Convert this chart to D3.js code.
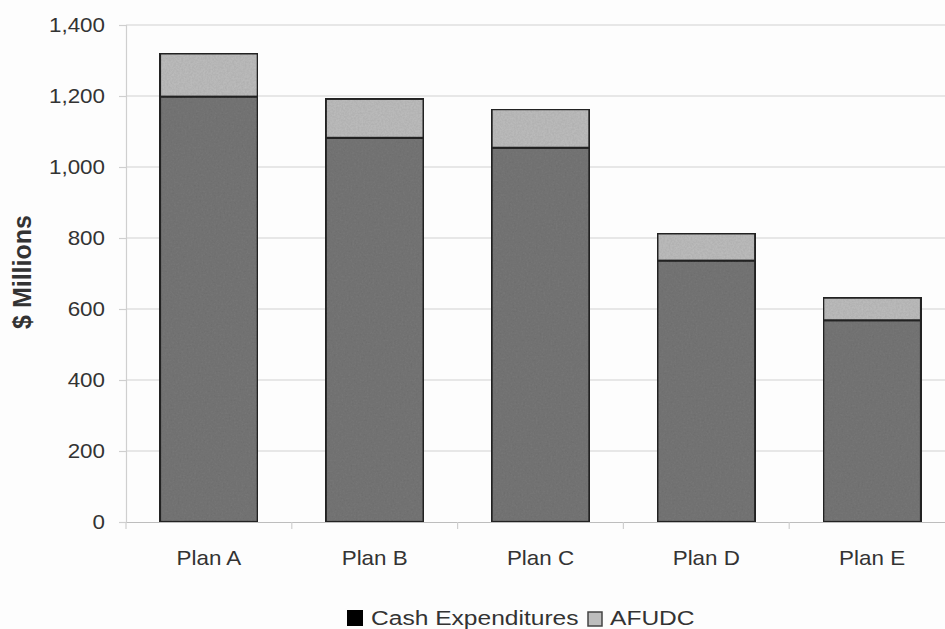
<!DOCTYPE html>
<html>
<head>
<meta charset="utf-8">
<script src="https://cdn.jsdelivr.net/npm/d3@7"></script>
<style>
  html, body { margin: 0; padding: 0; background: #fdfdfd; }
  svg { display: block; }
  text { font-family: "Liberation Sans", Arial, Helvetica, sans-serif; fill: #333; }
</style>
</head>
<body>
<svg id="chart" width="945" height="629"></svg>
<script>
// Capital cost by plan, $ millions
const plans = ["Plan A", "Plan B", "Plan C", "Plan D", "Plan E"];
const cashExpenditures = [1198, 1082, 1054, 736, 568];
const afudc = [122, 110, 109, 77, 64];
const yTicks = [0, 200, 400, 600, 800, 1000, 1200, 1400];
const seriesNames = ["Cash Expenditures", "AFUDC"];

const svg = d3.select("#chart");
const W = 945, H = 629;
const margin = { left: 126, top: 25, bottom: 107 };
const plotBottom = H - margin.bottom;   // y of zero line
const plotRight = 955;                  // category band extends past the frame
const sx = 1.12;                        // horizontal text stretch

// grain texture for the bar fills
const defs = svg.append("defs");
const f = defs.append("filter").attr("id", "grain")
  .attr("x", 0).attr("y", 0).attr("width", 1).attr("height", 1);
f.append("feTurbulence").attr("type", "fractalNoise").attr("baseFrequency", 0.55)
  .attr("numOctaves", 2).attr("seed", 4).attr("result", "noise");
f.append("feColorMatrix").attr("in", "noise").attr("type", "matrix")
  .attr("values", "0 0 0 0 0  0 0 0 0 0  0 0 0 0 0  0 0 0 0.2 0")
  .attr("result", "dots");
f.append("feComposite").attr("in", "dots").attr("in2", "SourceGraphic")
  .attr("operator", "in").attr("result", "dotsIn");
f.append("feMerge").call(m => {
  m.append("feMergeNode").attr("in", "SourceGraphic");
  m.append("feMergeNode").attr("in", "dotsIn");
});

const x = d3.scaleBand().domain(plans).range([margin.left, plotRight]).paddingInner(0.41).paddingOuter(0.205);
const xBand = d3.scaleBand().domain(plans).range([margin.left, plotRight]);
const y = d3.scaleLinear().domain([0, 1400]).range([plotBottom, margin.top]);

// horizontal gridlines
svg.append("g").selectAll("line").data(yTicks.filter(d => d > 0)).join("line")
  .attr("x1", margin.left).attr("x2", W)
  .attr("y1", d => y(d)).attr("y2", d => y(d))
  .attr("stroke", "#d2d2d2").attr("stroke-width", 1.2);

// y axis
const yAxis = svg.append("g").attr("transform", `translate(${margin.left},0)`)
  .call(d3.axisLeft(y).tickValues(yTicks).tickSize(7).tickPadding(14).tickFormat(d3.format(",")));
yAxis.select(".domain").attr("stroke", "#cfcfcf").attr("stroke-width", 1.2);
yAxis.selectAll(".tick line").attr("stroke", "#cfcfcf").attr("stroke-width", 1.2);
yAxis.selectAll(".tick text")
  .attr("font-size", 20).attr("fill", "#333")
  .attr("transform", function () {
    const xx = +d3.select(this).attr("x");
    return `translate(${xx},0) scale(${sx},1) translate(${-xx},0)`;
  });

// x axis
const xAxis = svg.append("g").attr("transform", `translate(0,${plotBottom})`)
  .call(d3.axisBottom(xBand).tickSize(0).tickPadding(29));
xAxis.select(".domain").attr("stroke", "#bdbdbd").attr("stroke-width", 1.2);
xAxis.selectAll(".tick text").attr("font-size", 20).attr("fill", "#333")
  .attr("transform", `scale(${sx},1)`)
  .attr("x", 0);
// boundary ticks between categories
svg.append("g").selectAll("line").data(plans).join("line")
  .attr("x1", d => xBand(d)).attr("x2", d => xBand(d))
  .attr("y1", plotBottom).attr("y2", plotBottom + 7)
  .attr("stroke", "#cfcfcf").attr("stroke-width", 1.2);

// stacked bars
const stackData = plans.map((p, i) => ({ plan: p, cash: cashExpenditures[i], afudc: afudc[i] }));
const stacked = d3.stack().keys(["cash", "afudc"])(stackData);
const fills = { cash: "#787878", afudc: "#bfbfbf" };
svg.append("g").selectAll("g").data(stacked).join("g")
  .attr("fill", s => fills[s.key])
  .selectAll("rect").data(s => s).join("rect")
  .attr("x", d => x(d.data.plan))
  .attr("width", x.bandwidth())
  .attr("y", d => y(d[1]))
  .attr("height", d => y(d[0]) - y(d[1]))
  .attr("stroke", "#262626").attr("stroke-width", 2.2)
  .attr("filter", "url(#grain)");

// y title
svg.append("text")
  .attr("transform", `translate(31,272) rotate(-90)`)
  .attr("text-anchor", "middle").attr("font-size", 25).attr("font-weight", "bold")
  .attr("fill", "#333")
  .text("$ Millions");

// legend
const legend = svg.append("g");
const lg = [
  { name: seriesNames[0], fill: "#000", stroke: "none", sx: 347, tx: 371, size: 16 },
  { name: seriesNames[1], fill: "#bdbdbd", stroke: "#444", sx: 588, tx: 610, size: 14 }
];
lg.forEach(d => {
  legend.append("rect").attr("x", d.sx).attr("y", 626 - d.size).attr("width", d.size).attr("height", d.size)
    .attr("fill", d.fill).attr("stroke", d.stroke).attr("stroke-width", 1.5);
  legend.append("text").attr("transform", `translate(${d.tx},625) scale(1.17,1)`)
    .attr("font-size", 21).attr("fill", "#333").text(d.name);
});
</script>
</body>
</html>
